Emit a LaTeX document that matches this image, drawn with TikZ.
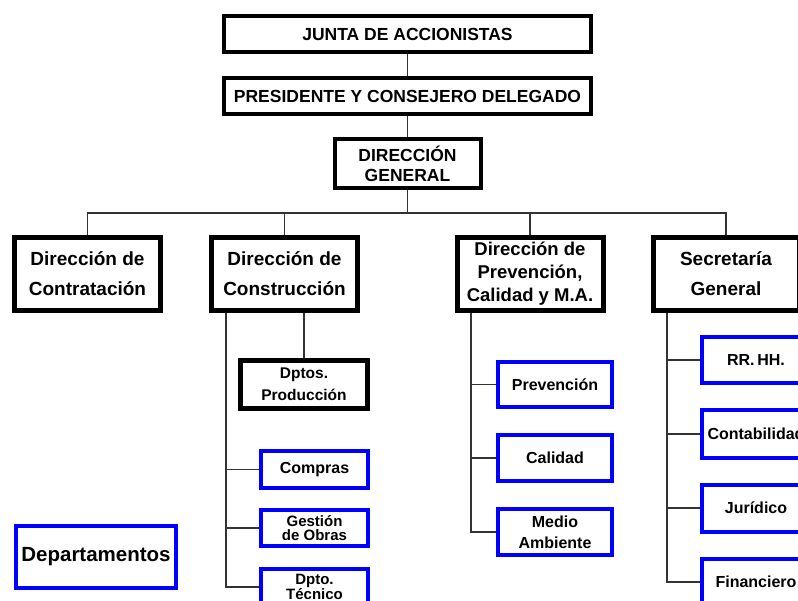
\documentclass[tikz,border=0pt]{standalone}
\usepackage{fontspec}
\setmainfont{Liberation Sans}
\begin{document}
\begin{tikzpicture}[x=1pt,y=-1pt,
  topbox/.style={draw=black,line width=4pt,fill=white,inner sep=0pt,align=center,
    font=\fontsize{17.5}{20}\selectfont\bfseries},
  dirbox/.style={draw=black,line width=5pt,fill=white,inner sep=0pt,align=center,
    minimum width=146pt,minimum height=73pt,font=\fontsize{19}{30}\selectfont\bfseries},
  bluebox/.style={draw={rgb,255:red,0;green,0;blue,255},line width=4pt,fill=white,inner sep=0pt,align=center,
    font=\fontsize{16}{21}\selectfont\bfseries},
  conn/.style={draw={rgb,255:red,51;green,51;blue,51},line width=1.5pt}]
\useasboundingbox (0,0) rectangle (798,601);
\clip (0,0) rectangle (798,601);

% top levels
\node[topbox,minimum width=367pt,minimum height=36pt] (junta) at (407.5,34) {JUNTA DE ACCIONISTAS};
\node[topbox,minimum width=367pt,minimum height=36pt] (pres) at (407.5,96) {PRESIDENTE Y CONSEJERO DELEGADO};
\node[topbox,minimum width=146pt,minimum height=49pt] (dg) at (407.5,163.5) {DIRECCIÓN\\GENERAL};

% directions
\node[dirbox] (contr) at (87.5,274) {Dirección de\\Contratación};
\node[dirbox] (constr) at (284.5,274) {Dirección de\\Construcción};
\node[dirbox,font=\fontsize{18.5}{23}\selectfont\bfseries] (prev) at (530,274) {Dirección de\\Prevención,\\Calidad y M.A.};
\node[dirbox] (secr) at (726,274) {Secretaría\\General};

% construction children
\node[dirbox,minimum width=127pt,minimum height=48pt,font=\fontsize{15.5}{22}\selectfont\bfseries] (prod) at (304,384.5) {Dptos.\\Producción};
\node[bluebox,minimum width=107pt,minimum height=37pt] (compras) at (314.5,469.5) {Compras};
\node[bluebox,minimum width=107pt,minimum height=36pt,font=\fontsize{15}{14}\selectfont\bfseries] (gestion) at (314.5,528) {Gestión\\de Obras};
\node[bluebox,minimum width=107pt,minimum height=36pt,font=\fontsize{15}{14}\selectfont\bfseries] (tecnico) at (314.5,587) {Dpto.\\Técnico};

% legend
\node[bluebox,minimum width=160pt,minimum height=62pt,font=\fontsize{20.5}{24}\selectfont\bfseries] (deptos) at (96,557) {Departamentos};

% prevention children
\node[bluebox,minimum width=114pt,minimum height=45pt] (prevencion) at (555,384.5) {Prevención};
\node[bluebox,minimum width=114pt,minimum height=46pt] (calidad) at (555,458) {Calidad};
\node[bluebox,minimum width=114pt,minimum height=46pt] (medio) at (555,532) {Medio\\Ambiente};

% secretaria children
\node[bluebox,minimum width=108pt,minimum height=46pt] (rrhh) at (756,360) {RR.\,HH.};
\node[bluebox,minimum width=108pt,minimum height=47pt] (contab) at (756,434) {Contabilidad};
\node[bluebox,minimum width=108pt,minimum height=47pt] (jurid) at (756,508) {Jurídico};
\node[bluebox,minimum width=108pt,minimum height=47pt] (finan) at (756,582) {Financiero};

% connectors
\coordinate (bus) at (407.5,213);
\coordinate (cvt) at (226,313);
\coordinate (pvt) at (471,313);
\coordinate (svt) at (667,313);

\draw[conn] (junta.south) -- (pres.north);
\draw[conn] (pres.south) -- (dg.north);
\draw[conn] (dg.south) -- (bus);
\draw[conn] (contr.north) |- (bus) -| (secr.north);
\draw[conn] (constr.north) -- (constr.north |- bus);
\draw[conn] (prev.north) -- (prev.north |- bus);

\draw[conn] (prod.north) -- (prod.north |- constr.south);
\draw[conn] (cvt) |- (tecnico.west);
\draw[conn] (cvt |- compras.west) -- (compras.west);
\draw[conn] (cvt |- gestion.west) -- (gestion.west);

\draw[conn] (pvt) |- (medio.west);
\draw[conn] (pvt |- prevencion.west) -- (prevencion.west);
\draw[conn] (pvt |- calidad.west) -- (calidad.west);

\draw[conn] (svt) |- (finan.west);
\draw[conn] (svt |- rrhh.west) -- (rrhh.west);
\draw[conn] (svt |- contab.west) -- (contab.west);
\draw[conn] (svt |- jurid.west) -- (jurid.west);
\end{tikzpicture}
\end{document}
